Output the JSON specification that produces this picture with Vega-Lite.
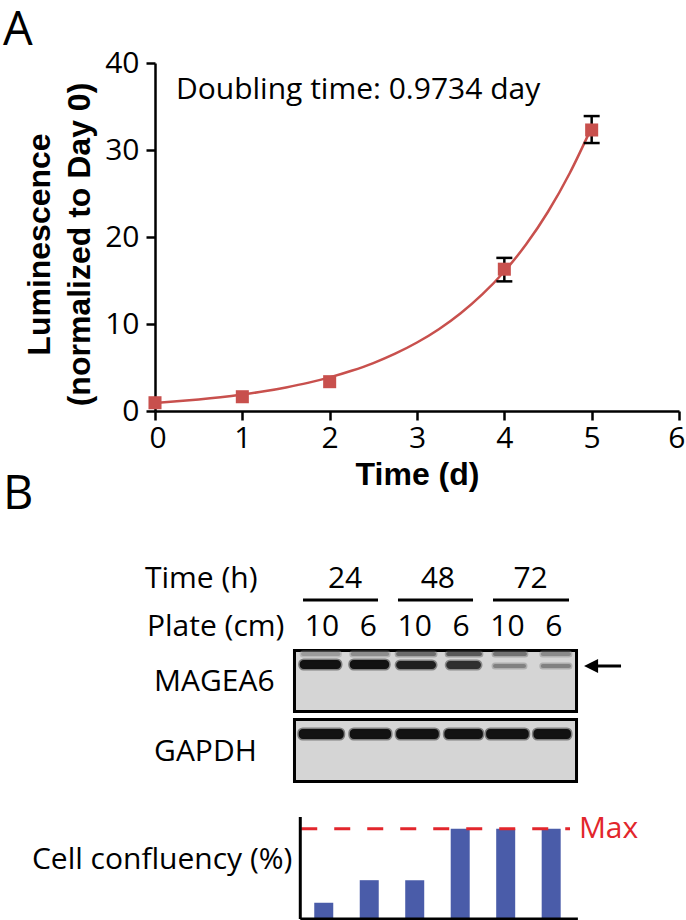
{
  "$schema": "https://vega.github.io/schema/vega-lite/v6.json",
  "background": "white",
  "padding": {"left": 2, "top": 6, "right": 0, "bottom": 0},
  "autosize": {"type": "pad"},
  "bounds": "flush",
  "spacing": 20,
  "config": {
    "view": {"stroke": null},
    "font": "Open Sans",
    "axis": {
      "grid": false, "domainColor": "black", "domainWidth": 2.5, "tickColor": "black",
      "tickWidth": 2.5, "tickSize": 9, "labelFont": "Open Sans", "labelFontSize": 30,
      "labelColor": "black", "titleFont": "Liberation Sans", "titleFontWeight": "bold",
      "titleFontSize": 32, "titleColor": "black"
    },
    "axisY": {"titleY": 181},
    "axisX": {"labelFlush": true, "labelFlushOffset": 6}
  },
  "datasets": {
    "curve": [
      {"t": 0, "v": 0.93}, {"t": 0.25, "v": 1.11}, {"t": 0.5, "v": 1.33}, {"t": 0.75, "v": 1.59},
      {"t": 1, "v": 1.9}, {"t": 1.25, "v": 2.26}, {"t": 1.5, "v": 2.71}, {"t": 1.75, "v": 3.23},
      {"t": 2, "v": 3.86}, {"t": 2.25, "v": 4.62}, {"t": 2.5, "v": 5.51}, {"t": 2.75, "v": 6.59},
      {"t": 3, "v": 7.87}, {"t": 3.25, "v": 9.4}, {"t": 3.5, "v": 11.24}, {"t": 3.75, "v": 13.43},
      {"t": 4, "v": 16.04}, {"t": 4.25, "v": 19.16}, {"t": 4.5, "v": 22.9}, {"t": 4.75, "v": 27.36},
      {"t": 5, "v": 32.6}
    ],
    "pts": [
      {"t": 0, "v": 0.95}, {"t": 1, "v": 1.64}, {"t": 2, "v": 3.37}, {"t": 4, "v": 16.3}, {"t": 5, "v": 32.3}
    ],
    "err": [
      {"t": 4, "lo": 14.9, "hi": 17.6}, {"t": 5, "lo": 30.8, "hi": 33.9}
    ],
    "annotA": [{"t": 0.24, "v": 35.9, "label": "Doubling time: 0.9734 day"}],
    "panelA": [{"t": -1.74, "v": 42.1, "label": "A"}],
    "panelB": [{"x": -5.878, "y": 78, "label": "B"}],
    "rowLabels": [
      {"x": -2.816, "y": 157, "label": "Time (h)"},
      {"x": -2.773, "y": 205, "label": "Plate (cm)"},
      {"x": -2.62, "y": 260, "label": "MAGEA6"},
      {"x": -2.62, "y": 330, "label": "GAPDH"}
    ],
    "laneLabels": [
      {"x": 1.5, "y": 157, "label": "24"}, {"x": 3.5, "y": 157, "label": "48"}, {"x": 5.5, "y": 157, "label": "72"},
      {"x": 1, "y": 205, "label": "10"}, {"x": 2, "y": 205, "label": "6"},
      {"x": 3, "y": 205, "label": "10"}, {"x": 4, "y": 205, "label": "6"},
      {"x": 5, "y": 205, "label": "10"}, {"x": 6, "y": 205, "label": "6"}
    ],
    "underlines": [
      {"x1": 0.592, "x2": 2.209, "y": 169}, {"x1": 2.64, "x2": 4.258, "y": 169}, {"x1": 4.689, "x2": 6.328, "y": 169}
    ],
    "boxes": [
      {"blot": "MAGEA6", "x1": 0.408, "x2": 6.49, "y1": 219.5, "y2": 280.5},
      {"blot": "GAPDH", "x1": 0.408, "x2": 6.49, "y1": 288.5, "y2": 350.5}
    ],
    "bands": [
      {"blot": "MAGEA6", "lane": 1, "x1": 0.52, "x2": 1.41, "y1": 229, "y2": 238, "intensity": 1.0},
      {"blot": "MAGEA6", "lane": 2, "x1": 1.6, "x2": 2.45, "y1": 229, "y2": 238, "intensity": 1.0},
      {"blot": "MAGEA6", "lane": 3, "x1": 2.6, "x2": 3.46, "y1": 230, "y2": 238, "intensity": 0.92},
      {"blot": "MAGEA6", "lane": 4, "x1": 3.68, "x2": 4.43, "y1": 230, "y2": 238, "intensity": 0.82},
      {"blot": "MAGEA6", "lane": 5, "x1": 4.69, "x2": 5.4, "y1": 233, "y2": 237, "intensity": 0.38},
      {"blot": "MAGEA6", "lane": 6, "x1": 5.72, "x2": 6.37, "y1": 233, "y2": 237, "intensity": 0.38},
      {"blot": "MAGEA6 upper", "lane": 1, "x1": 0.55, "x2": 1.4, "y1": 221, "y2": 225, "intensity": 0.25},
      {"blot": "MAGEA6 upper", "lane": 2, "x1": 1.62, "x2": 2.45, "y1": 221, "y2": 225, "intensity": 0.32},
      {"blot": "MAGEA6 upper", "lane": 3, "x1": 2.6, "x2": 3.46, "y1": 221, "y2": 225, "intensity": 0.48},
      {"blot": "MAGEA6 upper", "lane": 4, "x1": 3.68, "x2": 4.45, "y1": 221, "y2": 225, "intensity": 0.58},
      {"blot": "MAGEA6 upper", "lane": 5, "x1": 4.69, "x2": 5.42, "y1": 221, "y2": 225, "intensity": 0.45},
      {"blot": "MAGEA6 upper", "lane": 6, "x1": 5.72, "x2": 6.37, "y1": 221, "y2": 225, "intensity": 0.33},
      {"blot": "GAPDH", "lane": 1, "x1": 0.5, "x2": 1.47, "y1": 298, "y2": 308, "intensity": 1.0},
      {"blot": "GAPDH", "lane": 2, "x1": 1.6, "x2": 2.49, "y1": 298, "y2": 308, "intensity": 1.0},
      {"blot": "GAPDH", "lane": 3, "x1": 2.6, "x2": 3.52, "y1": 298, "y2": 308, "intensity": 1.0},
      {"blot": "GAPDH", "lane": 4, "x1": 3.64, "x2": 4.47, "y1": 298, "y2": 308, "intensity": 1.0},
      {"blot": "GAPDH", "lane": 5, "x1": 4.54, "x2": 5.46, "y1": 298, "y2": 308, "intensity": 1.0},
      {"blot": "GAPDH", "lane": 6, "x1": 5.56, "x2": 6.37, "y1": 298, "y2": 308, "intensity": 1.0}
    ],
    "arrow": [{"x": 7.051, "y": 235}],
    "conf": [
      {"lane": 1, "conf": 18}, {"lane": 2, "conf": 43}, {"lane": 3, "conf": 43},
      {"lane": 4, "conf": 100}, {"lane": 5, "conf": 100}, {"lane": 6, "conf": 100}
    ],
    "confAxes": [
      {"x1": 0.484, "x2": 0.484, "y1": 0, "y2": 113},
      {"x1": 0.484, "x2": 6.587, "y1": 0, "y2": 0}
    ],
    "maxLine": [{"x1": 0.505, "x2": 6.414, "y": 100}],
    "maxText": [{"x": 6.609, "y": 89.7, "label": "Max"}],
    "confText": [{"x": 0.311, "y": 55.4, "label": "Cell confluency (%)"}]
  },
  "vconcat": [
    {
      "width": 524,
      "height": 348,
      "layer": [
        {
          "data": {"name": "curve"},
          "mark": {"type": "line", "color": "#c8504d", "strokeWidth": 2.5, "interpolate": "monotone"},
          "encoding": {
            "x": {"field": "t", "type": "quantitative", "scale": {"domain": [0, 6]},
                  "axis": {"values": [0, 1, 2, 3, 4, 5, 6], "title": "Time (d)", "labelPadding": 3, "titlePadding": 6}},
            "y": {"field": "v", "type": "quantitative", "scale": {"domain": [0, 40]},
                  "axis": {"values": [0, 10, 20, 30, 40], "title": ["Luminescence", "(normalized to Day 0)"], "labelPadding": 7, "titlePadding": 8, "titleLineHeight": 40}}
          }
        },
        {
          "data": {"name": "err"},
          "mark": {"type": "rule", "color": "black", "strokeWidth": 2.5},
          "encoding": {
            "x": {"field": "t", "type": "quantitative", "scale": {"domain": [0, 6]},
                  "axis": {"values": [0, 1, 2, 3, 4, 5, 6], "title": "Time (d)", "labelPadding": 3, "titlePadding": 6}},
            "y": {"field": "lo", "type": "quantitative", "scale": {"domain": [0, 40]},
                  "axis": {"values": [0, 10, 20, 30, 40], "title": ["Luminescence", "(normalized to Day 0)"], "labelPadding": 7, "titlePadding": 8, "titleLineHeight": 40}},
            "y2": {"field": "hi"}
          }
        },
        {
          "data": {"name": "err"},
          "mark": {"type": "tick", "orient": "horizontal", "size": 16, "thickness": 2.5, "color": "black", "opacity": 1},
          "encoding": {
            "x": {"field": "t", "type": "quantitative", "scale": {"domain": [0, 6]},
                  "axis": {"values": [0, 1, 2, 3, 4, 5, 6], "title": "Time (d)", "labelPadding": 3, "titlePadding": 6}},
            "y": {"field": "hi", "type": "quantitative", "scale": {"domain": [0, 40]},
                  "axis": {"values": [0, 10, 20, 30, 40], "title": ["Luminescence", "(normalized to Day 0)"], "labelPadding": 7, "titlePadding": 8, "titleLineHeight": 40}}
          }
        },
        {
          "data": {"name": "err"},
          "mark": {"type": "tick", "orient": "horizontal", "size": 16, "thickness": 2.5, "color": "black", "opacity": 1},
          "encoding": {
            "x": {"field": "t", "type": "quantitative", "scale": {"domain": [0, 6]},
                  "axis": {"values": [0, 1, 2, 3, 4, 5, 6], "title": "Time (d)", "labelPadding": 3, "titlePadding": 6}},
            "y": {"field": "lo", "type": "quantitative", "scale": {"domain": [0, 40]},
                  "axis": {"values": [0, 10, 20, 30, 40], "title": ["Luminescence", "(normalized to Day 0)"], "labelPadding": 7, "titlePadding": 8, "titleLineHeight": 40}}
          }
        },
        {
          "data": {"name": "pts"},
          "mark": {"type": "square", "size": 170, "color": "#c8504d", "opacity": 1, "filled": true},
          "encoding": {
            "x": {"field": "t", "type": "quantitative", "scale": {"domain": [0, 6]},
                  "axis": {"values": [0, 1, 2, 3, 4, 5, 6], "title": "Time (d)", "labelPadding": 3, "titlePadding": 6}},
            "y": {"field": "v", "type": "quantitative", "scale": {"domain": [0, 40]},
                  "axis": {"values": [0, 10, 20, 30, 40], "title": ["Luminescence", "(normalized to Day 0)"], "labelPadding": 7, "titlePadding": 8, "titleLineHeight": 40}}
          }
        },
        {
          "data": {"name": "annotA"},
          "mark": {"type": "text", "align": "left", "baseline": "alphabetic", "fontSize": 30, "font": "Open Sans", "color": "black"},
          "encoding": {
            "x": {"field": "t", "type": "quantitative", "scale": {"domain": [0, 6]},
                  "axis": {"values": [0, 1, 2, 3, 4, 5, 6], "title": "Time (d)", "labelPadding": 3, "titlePadding": 6}},
            "y": {"field": "v", "type": "quantitative", "scale": {"domain": [0, 40]},
                  "axis": {"values": [0, 10, 20, 30, 40], "title": ["Luminescence", "(normalized to Day 0)"], "labelPadding": 7, "titlePadding": 8, "titleLineHeight": 40}},
            "text": {"field": "label"}
          }
        },
        {
          "data": {"name": "panelA"},
          "mark": {"type": "text", "align": "left", "baseline": "alphabetic", "fontSize": 47, "font": "Open Sans", "color": "black"},
          "encoding": {
            "x": {"field": "t", "type": "quantitative", "scale": {"domain": [0, 6]},
                  "axis": {"values": [0, 1, 2, 3, 4, 5, 6], "title": "Time (d)", "labelPadding": 3, "titlePadding": 6}},
            "y": {"field": "v", "type": "quantitative", "scale": {"domain": [0, 40]},
                  "axis": {"values": [0, 10, 20, 30, 40], "title": ["Luminescence", "(normalized to Day 0)"], "labelPadding": 7, "titlePadding": 8, "titleLineHeight": 40}},
            "text": {"field": "label"}
          }
        }
      ]
    },
    {
      "width": 524,
      "height": 366,
      "layer": [
        {
          "data": {"name": "boxes"},
          "mark": {"type": "rect", "fill": "#d5d5d5", "stroke": "black", "strokeWidth": 3},
          "encoding": {
            "x": {"field": "x1", "type": "quantitative", "scale": {"domain": [-2.6, 8.7]}, "axis": null},
            "x2": {"field": "x2"},
            "y": {"field": "y1", "type": "quantitative", "scale": {"domain": [0, 366], "reverse": true}, "axis": null},
            "y2": {"field": "y2"}
          }
        },
        {
          "data": {"name": "bands"},
          "mark": {"type": "rect", "cornerRadius": 4, "strokeWidth": 3, "strokeOpacity": 0.45},
          "encoding": {
            "x": {"field": "x1", "type": "quantitative", "scale": {"domain": [-2.6, 8.7]}, "axis": null},
            "x2": {"field": "x2"},
            "y": {"field": "y1", "type": "quantitative", "scale": {"domain": [0, 366], "reverse": true}, "axis": null},
            "y2": {"field": "y2"},
            "fill": {"field": "intensity", "type": "quantitative", "scale": {"domain": [0, 1], "range": ["#d0d0d0", "#121212"]}, "legend": null},
            "stroke": {"field": "intensity", "type": "quantitative", "scale": {"domain": [0, 1], "range": ["#d0d0d0", "#121212"]}, "legend": null}
          }
        },
        {
          "data": {"name": "underlines"},
          "mark": {"type": "rule", "color": "black", "strokeWidth": 3},
          "encoding": {
            "x": {"field": "x1", "type": "quantitative", "scale": {"domain": [-2.6, 8.7]}, "axis": null},
            "x2": {"field": "x2"},
            "y": {"field": "y", "type": "quantitative", "scale": {"domain": [0, 366], "reverse": true}, "axis": null}
          }
        },
        {
          "data": {"name": "rowLabels"},
          "mark": {"type": "text", "align": "left", "baseline": "alphabetic", "fontSize": 30, "font": "Open Sans", "color": "black"},
          "encoding": {
            "x": {"field": "x", "type": "quantitative", "scale": {"domain": [-2.6, 8.7]}, "axis": null},
            "y": {"field": "y", "type": "quantitative", "scale": {"domain": [0, 366], "reverse": true}, "axis": null},
            "text": {"field": "label"}
          }
        },
        {
          "data": {"name": "laneLabels"},
          "mark": {"type": "text", "align": "center", "baseline": "alphabetic", "fontSize": 30, "font": "Open Sans", "color": "black"},
          "encoding": {
            "x": {"field": "x", "type": "quantitative", "scale": {"domain": [-2.6, 8.7]}, "axis": null},
            "y": {"field": "y", "type": "quantitative", "scale": {"domain": [0, 366], "reverse": true}, "axis": null},
            "text": {"field": "label"}
          }
        },
        {
          "data": {"name": "panelB"},
          "mark": {"type": "text", "align": "left", "baseline": "alphabetic", "fontSize": 47, "font": "Open Sans", "color": "black"},
          "encoding": {
            "x": {"field": "x", "type": "quantitative", "scale": {"domain": [-2.6, 8.7]}, "axis": null},
            "y": {"field": "y", "type": "quantitative", "scale": {"domain": [0, 366], "reverse": true}, "axis": null},
            "text": {"field": "label"}
          }
        },
        {
          "data": {"name": "arrow"},
          "mark": {"type": "point", "shape": "M-1,0L-0.24,-0.38L-0.24,-0.08L1,-0.08L1,0.08L-0.24,0.08L-0.24,0.38Z", "size": 1369, "filled": true, "color": "black", "opacity": 1, "strokeWidth": 0},
          "encoding": {
            "x": {"field": "x", "type": "quantitative", "scale": {"domain": [-2.6, 8.7]}, "axis": null},
            "y": {"field": "y", "type": "quantitative", "scale": {"domain": [0, 366], "reverse": true}, "axis": null}
          }
        }
      ]
    },
    {
      "width": 524,
      "height": 102,
      "layer": [
        {
          "data": {"name": "conf"},
          "mark": {"type": "bar", "orient": "vertical", "size": 19, "color": "#4a5ca9"},
          "encoding": {
            "x": {"field": "lane", "type": "quantitative", "scale": {"domain": [-2.6, 8.7]}, "axis": null},
            "y": {"field": "conf", "type": "quantitative", "scale": {"domain": [0, 113]}, "axis": null}
          }
        },
        {
          "data": {"name": "maxLine"},
          "mark": {"type": "rule", "color": "#e2262c", "strokeWidth": 3, "strokeDash": [16, 17]},
          "encoding": {
            "x": {"field": "x1", "type": "quantitative", "scale": {"domain": [-2.6, 8.7]}, "axis": null},
            "x2": {"field": "x2"},
            "y": {"field": "y", "type": "quantitative", "scale": {"domain": [0, 113]}, "axis": null}
          }
        },
        {
          "data": {"name": "confAxes"},
          "mark": {"type": "rule", "color": "black", "strokeWidth": 3},
          "encoding": {
            "x": {"field": "x1", "type": "quantitative", "scale": {"domain": [-2.6, 8.7]}, "axis": null},
            "x2": {"field": "x2"},
            "y": {"field": "y1", "type": "quantitative", "scale": {"domain": [0, 113]}, "axis": null},
            "y2": {"field": "y2"}
          }
        },
        {
          "data": {"name": "maxText"},
          "mark": {"type": "text", "align": "left", "baseline": "alphabetic", "fontSize": 30, "font": "Open Sans", "color": "#e2262c"},
          "encoding": {
            "x": {"field": "x", "type": "quantitative", "scale": {"domain": [-2.6, 8.7]}, "axis": null},
            "y": {"field": "y", "type": "quantitative", "scale": {"domain": [0, 113]}, "axis": null},
            "text": {"field": "label"}
          }
        },
        {
          "data": {"name": "confText"},
          "mark": {"type": "text", "align": "right", "baseline": "alphabetic", "fontSize": 30, "font": "Open Sans", "color": "black"},
          "encoding": {
            "x": {"field": "x", "type": "quantitative", "scale": {"domain": [-2.6, 8.7]}, "axis": null},
            "y": {"field": "y", "type": "quantitative", "scale": {"domain": [0, 113]}, "axis": null},
            "text": {"field": "label"}
          }
        }
      ]
    }
  ]
}
